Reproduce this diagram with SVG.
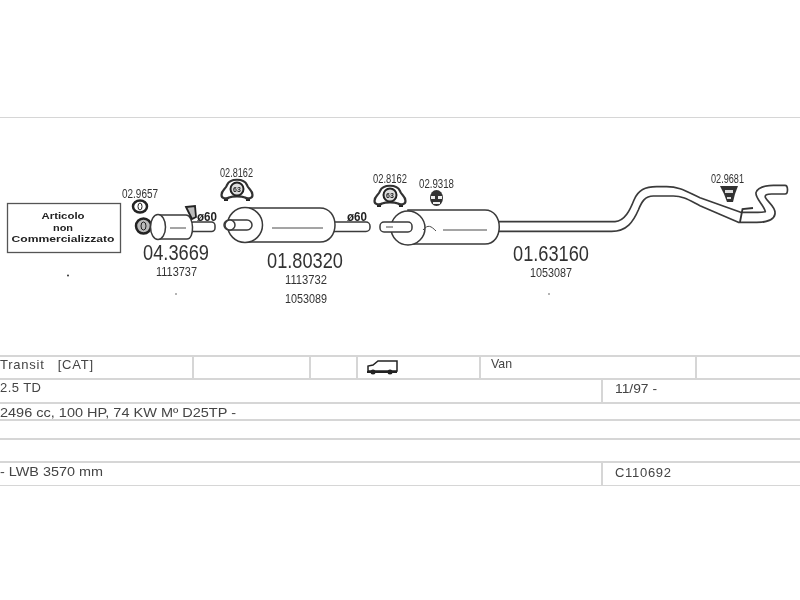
<svg xmlns="http://www.w3.org/2000/svg" xmlns:xlink="http://www.w3.org/1999/xlink" width="800" height="600" viewBox="0 0 800 600">
<style>
text{font-family:"Liberation Sans",Arial,sans-serif;fill:#333}
.rule{stroke:#d6d6d6;stroke-width:2;fill:none}
.part{stroke:#3a3a3a;stroke-width:1.5;fill:#fff}
.thin{stroke:#4a4a4a;stroke-width:1;fill:none}
.t{font-size:13px;fill:#444}
.ref{font-size:12.500px}
.code{font-size:22px}
.b{font-weight:bold;font-size:9.500px;fill:#222;text-anchor:middle}
.d{font-weight:bold;font-size:12px;fill:#222}
</style>
<defs>
<filter id="soft" x="0" y="0" width="1" height="1"><feGaussianBlur stdDeviation="0.35"/></filter>
<g id="gasket">
<rect x="-13" y="6" width="4" height="4" fill="#222"/><rect x="9" y="6" width="4" height="4" fill="#222"/>
<path d="M-15.500,4 C-15.500,-1 -11,-2 -10,-6 C-7,-13 7,-13 10,-6 C11,-2 15.500,-1 15.500,4 C15.500,8 10,8 8,6.500 C4,5 -4,5 -8,6.500 C-10,8 -15.500,8 -15.500,4Z" fill="#fff" stroke="#333" stroke-width="2.200"/>
<circle cx="0" cy="-2" r="6.500" fill="#ddd" stroke="#222" stroke-width="2"/>
<text x="0" y="0.500" text-anchor="middle" style="font-size:7px;font-weight:bold;fill:#222">63</text>
</g>
</defs>
<rect width="800" height="600" fill="#fff"/>
<g filter="url(#soft)">
<g id="frame" class="rule">
<path d="M0,117H800M0,356H800M0,379H800M0,403H800M0,420H800M0,439H800M0,462H800M0,486H800M193,356V379M310,356V379M357,356V379M480,356V379M696,356V379M602,379V403M602,462V486"/>
</g>
<g id="note">
<rect x="7.500" y="203.500" width="113" height="49" fill="#fff" stroke="#555" stroke-width="1.300"/>
<text class="b" x="63" y="219" textLength="43" lengthAdjust="spacingAndGlyphs">Articolo</text>
<text class="b" x="63" y="231" textLength="20" lengthAdjust="spacingAndGlyphs">non</text>
<text class="b" x="63" y="242" textLength="103" lengthAdjust="spacingAndGlyphs">Commercializzato</text>
<circle cx="68" cy="275.500" r="1" fill="#333"/>
</g>
<g id="catalyst">
<text class="ref" x="122" y="198" textLength="36" lengthAdjust="spacingAndGlyphs">02.9657</text>
<ellipse cx="140" cy="206.500" rx="7" ry="6" fill="#fff" stroke="#222" stroke-width="2.500"/>
<ellipse cx="140" cy="206.500" rx="2" ry="3.500" fill="none" stroke="#222"/>
<ellipse cx="143.500" cy="226" rx="7.500" ry="7.500" fill="#bbb" stroke="#222" stroke-width="2.500"/>
<ellipse cx="143.500" cy="226" rx="2.500" ry="4" fill="none" stroke="#222"/>
<rect x="190" y="222" width="25" height="9.500" rx="3.500" class="part"/>
<path class="part" d="M158,215 H186 C194,215 195,239 187,239 H158 Z"/>
<ellipse class="part" cx="158" cy="227" rx="7.500" ry="12.500" stroke-width="2"/>
<path class="thin" d="M170,228 H186"/>
<path d="M186,207 L195,206 L196,217 L192,219 L189,213 Z" fill="#bbb" stroke="#222" stroke-width="1.800"/>
<text class="d" x="197" y="221" textLength="20" lengthAdjust="spacingAndGlyphs">ø60</text>
<text class="code" x="143" y="259.500" textLength="66" lengthAdjust="spacingAndGlyphs">04.3669</text>
<text class="ref" x="156" y="276" textLength="41" lengthAdjust="spacingAndGlyphs">1113737</text>
<circle cx="176" cy="294" r="0.800" fill="#555"/>
</g>
<g id="hanger-1">
<text class="ref" x="220" y="177" textLength="33" lengthAdjust="spacingAndGlyphs">02.8162</text>
<use xlink:href="#gasket" href="#gasket" x="237" y="191"/>
</g>
<g id="muffler-1">
<rect x="330" y="222" width="40" height="9.500" rx="4" class="part"/>
<path class="part" d="M245,208 H320 C340,208 340,242 320,242 H245 Z"/>
<circle class="part" cx="245" cy="225" r="17.500" stroke-width="2"/>
<rect x="224" y="220" width="28" height="10" rx="5" class="part"/>
<ellipse class="part" cx="230" cy="225" rx="5" ry="5"/>
<path class="thin" d="M272,228 H323"/>
<text class="d" x="347" y="221" textLength="20" lengthAdjust="spacingAndGlyphs">ø60</text>
<text class="code" x="267" y="267.500" textLength="76" lengthAdjust="spacingAndGlyphs">01.80320</text>
<text class="ref" x="285" y="284" textLength="42" lengthAdjust="spacingAndGlyphs">1113732</text>
<text class="ref" x="285" y="303" textLength="42" lengthAdjust="spacingAndGlyphs">1053089</text>
</g>
<g id="hanger-2">
<text class="ref" x="373" y="183" textLength="34" lengthAdjust="spacingAndGlyphs">02.8162</text>
<use xlink:href="#gasket" href="#gasket" x="390" y="197"/>
</g>
<g id="hanger-3">
<text class="ref" x="419" y="188" textLength="35" lengthAdjust="spacingAndGlyphs">02.9318</text>
<ellipse cx="436.500" cy="198" rx="6.500" ry="8" fill="#333"/>
<path d="M431,196 H435 V199 H431Z M438,196 H442 V199 H438Z M433,202 H440 V204 H433Z" fill="#eee"/>
</g>
<g id="tailpipe">
<path transform="translate(490,160) scale(.33333)" fill="#fff" stroke="#3a3a3a" stroke-width="5" stroke-linejoin="round" d="M25,185 H375 C405,183 420,150 432,120 C445,90 465,80 500,80 H530 C570,80 590,95 630,113 L752,157 H790 C805,157 820,157 826,155 C822,135 795,115 798,98 C802,82 820,77 850,76 H885 C895,76 895,102 885,102 H845 C830,102 824,104 826,112 C835,130 858,140 855,162 C852,180 830,187 800,187 H745 L630,137 C600,122 580,108 550,108 H490 C465,108 455,125 445,150 C430,185 410,214 365,214 H25 Z"/>
<path d="M740,222 L742.500,209 L753,208" stroke="#333" stroke-width="1.800" fill="none"/>
<text class="code" x="513" y="260.500" textLength="76" lengthAdjust="spacingAndGlyphs">01.63160</text>
<text class="ref" x="530" y="277" textLength="42" lengthAdjust="spacingAndGlyphs">1053087</text>
<circle cx="549" cy="294" r="0.800" fill="#555"/>
</g>
<g id="hanger-4">
<text class="ref" x="711" y="183" textLength="33" lengthAdjust="spacingAndGlyphs">02.9681</text>
<path d="M720,186 H738 L735,194 L733,202 H727 L724,194 Z" fill="#333"/>
<path d="M725,190 H733 V193 H725Z M727,197 H731 V199 H727Z" fill="#ddd"/>
</g>
<g id="muffler-2">
<path class="part" d="M408,210 H485 C504,210 504,244 485,244 H408 Z"/>
<circle class="part" cx="408" cy="228" r="17" stroke-width="2"/>
<rect x="380" y="222" width="32" height="10" rx="4" class="part"/>
<path class="thin" d="M386,227 H393"/>
<path class="thin" d="M423,230 C428,224 431,226 436,231" stroke-width="1.500"/>
<path class="thin" d="M443,230 H487"/>
</g>
<g id="van">
<path d="M368,371 V366 L373,365 L378,361 H397 V371 Z" fill="#fff" stroke="#222" stroke-width="1.500"/>
<path d="M367,372 H397" stroke="#222" stroke-width="2"/>
<circle cx="373" cy="372" r="2.500" fill="#222"/><circle cx="390" cy="372" r="2.500" fill="#222"/>
</g>
<g id="table-text">
<text class="t" x="0" y="369" xml:space="preserve" textLength="93" lengthAdjust="spacing">Transit   [CAT]</text>
<text class="t" x="491" y="368" textLength="21" lengthAdjust="spacingAndGlyphs">Van</text>
<text class="t" x="0" y="392" textLength="41" lengthAdjust="spacing">2.5 TD</text>
<text class="t" x="615" y="393" textLength="42" lengthAdjust="spacingAndGlyphs">11/97 -</text>
<text class="t" x="0" y="417" textLength="236" lengthAdjust="spacingAndGlyphs">2496 cc, 100 HP, 74 KW  Mº D25TP -</text>
<text class="t" x="0" y="476" textLength="103" lengthAdjust="spacingAndGlyphs">- LWB 3570 mm</text>
<text class="t" x="615" y="477" textLength="56" lengthAdjust="spacing">C110692</text>
</g>
</g>
</svg>
